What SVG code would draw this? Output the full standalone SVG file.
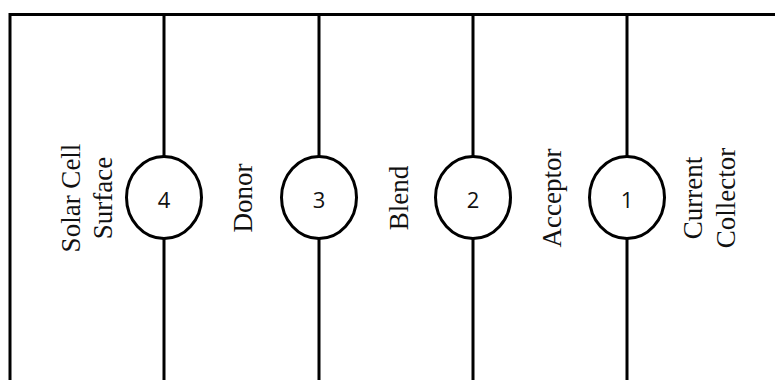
<svg xmlns="http://www.w3.org/2000/svg" width="775" height="380" viewBox="0 0 775 380">
  <style>
    .wire { fill: none; stroke: #000; stroke-width: 3; }
    .node { fill: #fff; stroke: #000; stroke-width: 3; }
    .num { font-family: "Open Sans", "Noto Sans", sans-serif; font-size: 22px; fill: #111; text-anchor: middle; }
    .lbl { font-family: "Liberation Serif", "Times New Roman", serif; font-size: 27px; fill: #111; text-anchor: middle; }
  </style>
  <rect width="775" height="380" fill="#fff"/>

  <!-- frame and vertical connectors -->
  <g id="connectors" class="wire">
    <path d="M10,380 V14.5 H775"/>
    <line x1="164" y1="14.5" x2="164" y2="380"/>
    <line x1="319" y1="14.5" x2="319" y2="380"/>
    <line x1="473" y1="14.5" x2="473" y2="380"/>
    <line x1="627" y1="14.5" x2="627" y2="380"/>
  </g>

  <!-- numbered nodes -->
  <g id="node4">
    <ellipse class="node" cx="164" cy="197.5" rx="37.5" ry="41"/>
    <text class="num" x="164" y="207.5">4</text>
  </g>
  <g id="node3">
    <ellipse class="node" cx="319" cy="197.5" rx="37.5" ry="41"/>
    <text class="num" x="319" y="207.5">3</text>
  </g>
  <g id="node2">
    <ellipse class="node" cx="473" cy="197.5" rx="37.5" ry="41"/>
    <text class="num" x="473" y="207.5">2</text>
  </g>
  <g id="node1">
    <ellipse class="node" cx="627" cy="197.5" rx="37.5" ry="41"/>
    <text class="num" x="627" y="207.5">1</text>
  </g>

  <!-- region labels, rotated to read bottom to top -->
  <g id="labels">
    <text class="lbl" transform="translate(80,198) rotate(-90)">Solar Cell</text>
    <text class="lbl" transform="translate(112,198) rotate(-90)">Surface</text>
    <text class="lbl" transform="translate(252,198) rotate(-90)">Donor</text>
    <text class="lbl" transform="translate(408,198) rotate(-90)">Blend</text>
    <text class="lbl" transform="translate(561,198) rotate(-90)">Acceptor</text>
    <text class="lbl" transform="translate(702,198) rotate(-90)">Current</text>
    <text class="lbl" transform="translate(735,198) rotate(-90)">Collector</text>
  </g>
</svg>
